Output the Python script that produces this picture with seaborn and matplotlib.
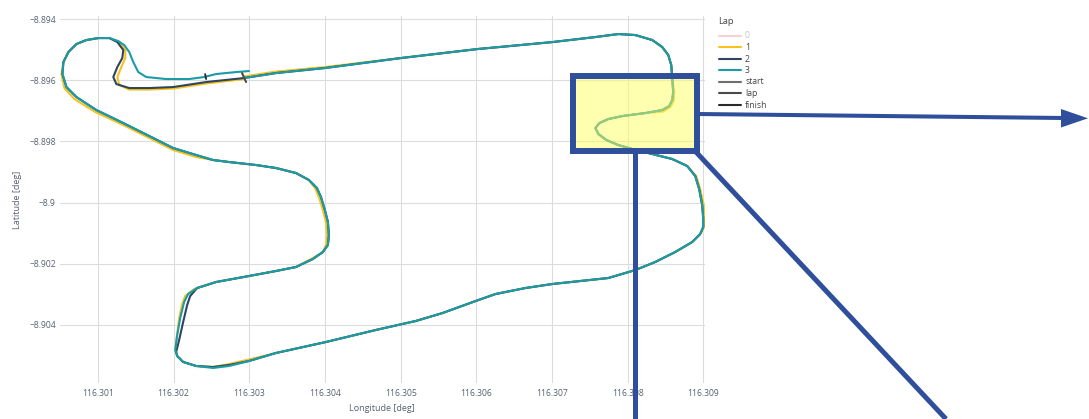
import pandas as pd
import matplotlib
matplotlib.use("Agg")
import matplotlib.pyplot as plt
from matplotlib.patches import Rectangle, Polygon
import seaborn as sns

# GPS traces of each lap (longitude / latitude in degrees)
lap2_lon = [
    116.302931, 116.303353, 116.303999, 116.305001, 116.306017, 116.307005, 116.307572, 116.307875,
    116.308100, 116.308324, 116.308455, 116.308535, 116.308574, 116.308587, 116.308600, 116.308587,
    116.308548, 116.308455, 116.308231, 116.307928, 116.307744, 116.307625, 116.307572, 116.307612,
    116.307717, 116.307875, 116.308060, 116.308324, 116.308587, 116.308785, 116.308891, 116.308943,
    116.308983, 116.308996, 116.308996, 116.308957, 116.308851, 116.308627, 116.308363, 116.308100,
    116.307744, 116.307374, 116.307005, 116.306649, 116.306254, 116.305990, 116.305555, 116.305199,
    116.304672, 116.304013, 116.303353, 116.302997, 116.302734, 116.302523, 116.302299, 116.302127,
    116.302048, 116.302035, 116.302074, 116.302127, 116.302180, 116.302220, 116.302312, 116.302562,
    116.302997, 116.303353, 116.303617, 116.303841, 116.303973, 116.304039, 116.304052, 116.304039,
    116.303999, 116.303947, 116.303894, 116.303788, 116.303617, 116.303353, 116.303090, 116.302734,
    116.302523, 116.302299, 116.301995, 116.301732, 116.301336, 116.300980, 116.300717, 116.300585,
    116.300532, 116.300545, 116.300611, 116.300717, 116.300848, 116.301007, 116.301152, 116.301257,
    116.301336, 116.301323, 116.301257, 116.301204, 116.301244, 116.301415, 116.301679, 116.301995,
    116.302430, 116.302931,
]
lap2_lat = [
    -8.895928, -8.895765, -8.895601, -8.895275, -8.894980, -8.894752, -8.894588, -8.894490,
    -8.894523, -8.894686, -8.894915, -8.895176, -8.895503, -8.895928, -8.896386, -8.896647,
    -8.896843, -8.896974, -8.897072, -8.897170, -8.897268, -8.897399, -8.897562, -8.897758,
    -8.897954, -8.898118, -8.898248, -8.898412, -8.898575, -8.898804, -8.899131, -8.899556,
    -8.900078, -8.900503, -8.900797, -8.901026, -8.901288, -8.901614, -8.901941, -8.902203,
    -8.902464, -8.902562, -8.902660, -8.902791, -8.902987, -8.903216, -8.903608, -8.903869,
    -8.904163, -8.904556, -8.904915, -8.905177, -8.905307, -8.905373, -8.905340, -8.905209,
    -8.905013, -8.904882, -8.904490, -8.903902, -8.903346, -8.903052, -8.902791, -8.902595,
    -8.902399, -8.902235, -8.902105, -8.901843, -8.901614, -8.901386, -8.901059, -8.900634,
    -8.900242, -8.899817, -8.899523, -8.899261, -8.899033, -8.898869, -8.898771, -8.898673,
    -8.898608, -8.898444, -8.898216, -8.897889, -8.897399, -8.896974, -8.896549, -8.896222,
    -8.895797, -8.895405, -8.895078, -8.894817, -8.894686, -8.894621, -8.894621, -8.894752,
    -8.895013, -8.895275, -8.895569, -8.895895, -8.896124, -8.896255, -8.896255, -8.896222,
    -8.896059, -8.895928,
]

lap1_lon = [
    116.302931, 116.303353, 116.303999, 116.305001, 116.306017, 116.307005, 116.307572, 116.307875,
    116.308100, 116.308324, 116.308455, 116.308535, 116.308574, 116.308587, 116.308614, 116.308607,
    116.308561, 116.308469, 116.308231, 116.307928, 116.307744, 116.307625, 116.307572, 116.307612,
    116.307717, 116.307875, 116.308060, 116.308324, 116.308587, 116.308785, 116.308904, 116.308957,
    116.309003, 116.309009, 116.309009, 116.308957, 116.308851, 116.308627, 116.308363, 116.308100,
    116.307744, 116.307374, 116.307005, 116.306649, 116.306254, 116.305990, 116.305555, 116.305199,
    116.304672, 116.304013, 116.303353, 116.302997, 116.302734, 116.302523, 116.302299, 116.302127,
    116.302048, 116.302022, 116.302048, 116.302074, 116.302114, 116.302154, 116.302272, 116.302562,
    116.302997, 116.303353, 116.303617, 116.303841, 116.303973, 116.304013, 116.304026, 116.304013,
    116.303973, 116.303920, 116.303868, 116.303788, 116.303617, 116.303353, 116.303090, 116.302734,
    116.302523, 116.302299, 116.301995, 116.301732, 116.301336, 116.300967, 116.300690, 116.300558,
    116.300519, 116.300545, 116.300611, 116.300717, 116.300848, 116.301007, 116.301152, 116.301283,
    116.301363, 116.301363, 116.301310, 116.301257, 116.301283, 116.301415, 116.301679, 116.301995,
    116.302430, 116.302931,
]
lap1_lat = [
    -8.895879, -8.895716, -8.895569, -8.895275, -8.894980, -8.894752, -8.894588, -8.894490,
    -8.894523, -8.894686, -8.894915, -8.895176, -8.895503, -8.895928, -8.896386, -8.896680,
    -8.896876, -8.897023, -8.897072, -8.897170, -8.897268, -8.897399, -8.897562, -8.897758,
    -8.897954, -8.898118, -8.898248, -8.898412, -8.898575, -8.898804, -8.899131, -8.899556,
    -8.900078, -8.900503, -8.900797, -8.901026, -8.901288, -8.901614, -8.901941, -8.902203,
    -8.902464, -8.902562, -8.902660, -8.902791, -8.902987, -8.903216, -8.903608, -8.903869,
    -8.904163, -8.904556, -8.904915, -8.905128, -8.905275, -8.905373, -8.905340, -8.905209,
    -8.905013, -8.904817, -8.904294, -8.903771, -8.903314, -8.903052, -8.902824, -8.902595,
    -8.902399, -8.902235, -8.902105, -8.901811, -8.901614, -8.901386, -8.901059, -8.900634,
    -8.900242, -8.899817, -8.899523, -8.899261, -8.899033, -8.898869, -8.898771, -8.898673,
    -8.898608, -8.898510, -8.898281, -8.897954, -8.897464, -8.897039, -8.896614, -8.896255,
    -8.895797, -8.895405, -8.895078, -8.894817, -8.894686, -8.894621, -8.894621, -8.894752,
    -8.895013, -8.895275, -8.895569, -8.895895, -8.896157, -8.896304, -8.896304, -8.896271,
    -8.896108, -8.895961,
]

# lap 3 finishes through the pit lane
lap3_lon = [
    116.302931, 116.303353, 116.303999, 116.305001, 116.306017, 116.307005, 116.307572, 116.307875,
    116.308100, 116.308324, 116.308455, 116.308535, 116.308574, 116.308587, 116.308600, 116.308587,
    116.308548, 116.308455, 116.308231, 116.307928, 116.307744, 116.307625, 116.307572, 116.307612,
    116.307717, 116.307875, 116.308060, 116.308324, 116.308587, 116.308785, 116.308891, 116.308943,
    116.308983, 116.308996, 116.308996, 116.308957, 116.308851, 116.308627, 116.308363, 116.308100,
    116.307744, 116.307374, 116.307005, 116.306649, 116.306254, 116.305990, 116.305555, 116.305199,
    116.304672, 116.304013, 116.303353, 116.302997, 116.302734, 116.302523, 116.302299, 116.302127,
    116.302048, 116.302022, 116.302048, 116.302088, 116.302140, 116.302193, 116.302312, 116.302562,
    116.302997, 116.303353, 116.303617, 116.303841, 116.303973, 116.304039, 116.304052, 116.304039,
    116.303999, 116.303947, 116.303894, 116.303788, 116.303617, 116.303353, 116.303090, 116.302734,
    116.302523, 116.302299, 116.301995, 116.301732, 116.301336, 116.300980, 116.300717, 116.300585,
    116.300532, 116.300545, 116.300611, 116.300717, 116.300848, 116.301007, 116.301152, 116.301270,
    116.301349, 116.301415, 116.301468, 116.301534, 116.301639, 116.301903, 116.302206, 116.302404,
    116.302562, 116.302826, 116.302997,
]
lap3_lat = [
    -8.895928, -8.895765, -8.895601, -8.895275, -8.894980, -8.894752, -8.894588, -8.894490,
    -8.894523, -8.894686, -8.894915, -8.895176, -8.895503, -8.895928, -8.896386, -8.896647,
    -8.896843, -8.896974, -8.897072, -8.897170, -8.897268, -8.897399, -8.897562, -8.897758,
    -8.897954, -8.898118, -8.898248, -8.898412, -8.898575, -8.898804, -8.899131, -8.899556,
    -8.900078, -8.900503, -8.900797, -8.901026, -8.901288, -8.901614, -8.901941, -8.902203,
    -8.902464, -8.902562, -8.902660, -8.902791, -8.902987, -8.903216, -8.903608, -8.903869,
    -8.904163, -8.904556, -8.904915, -8.905177, -8.905340, -8.905405, -8.905340, -8.905209,
    -8.905013, -8.904817, -8.904327, -8.903771, -8.903248, -8.902987, -8.902791, -8.902595,
    -8.902399, -8.902235, -8.902105, -8.901843, -8.901614, -8.901386, -8.901059, -8.900634,
    -8.900242, -8.899817, -8.899523, -8.899261, -8.899033, -8.898869, -8.898771, -8.898673,
    -8.898608, -8.898444, -8.898216, -8.897889, -8.897399, -8.896974, -8.896549, -8.896222,
    -8.895797, -8.895405, -8.895078, -8.894817, -8.894686, -8.894621, -8.894621, -8.894719,
    -8.894850, -8.895078, -8.895405, -8.895732, -8.895895, -8.895961, -8.895961, -8.895895,
    -8.895797, -8.895732, -8.895699,
]

# timing lines
start_lon = [116.302905, 116.302958]
start_lat = [-8.895765, -8.896059]
lapline_lon = [116.302905, 116.302958]
lapline_lat = [-8.895765, -8.896059]
finish_lon = [116.302417, 116.302430]
finish_lat = [-8.895797, -8.895961]

lap_names = ["0", "1", "2", "3"]
lap_colors = {"0": "#F4A3A3", "1": "#F6C21B", "2": "#2E4560", "3": "#1A9BA8"}
timing_names = ["start", "lap", "finish"]
timing_colors = {"start": "#6e6e6e", "lap": "#4a4a4a", "finish": "#2a2a2a"}

x_ticks = [116.301, 116.302, 116.303, 116.304, 116.305, 116.306, 116.307, 116.308, 116.309]
x_ticklabels = ["116.301", "116.302", "116.303", "116.304", "116.305", "116.306", "116.307", "116.308", "116.309"]
y_ticks = [-8.894, -8.896, -8.898, -8.900, -8.902, -8.904]
y_ticklabels = ["\u22128.894", "\u22128.896", "\u22128.898", "\u22128.9", "\u22128.902", "\u22128.904"]

frames = []
for name, lon, lat in [("1", lap1_lon, lap1_lat), ("2", lap2_lon, lap2_lat), ("3", lap3_lon, lap3_lat)]:
    frames.append(pd.DataFrame({"lon": lon, "lat": lat, "lap": name, "idx": range(len(lon))}))
laps = pd.concat(frames, ignore_index=True)

sns.set_theme(style="white")
plt.rcParams["font.family"] = ["Open Sans", "DejaVu Sans"]

W, H = 1089, 419
fig = plt.figure(figsize=(W / 100, H / 100), dpi=100)
left, right, top, bottom = 60, 705, 16, 383
ax = fig.add_axes([left / W, 1 - bottom / H, (right - left) / W, (bottom - top) / H])

sns.lineplot(data=laps, x="lon", y="lat", hue="lap", hue_order=["1", "2", "3"],
             palette=lap_colors, sort=False, estimator=None, units="lap",
             linewidth=1.5, legend=False, ax=ax)
for line in ax.get_lines():
    line.set_solid_joinstyle("round")
    line.set_solid_capstyle("round")

for name, lon, lat in [("start", start_lon, start_lat), ("lap", lapline_lon, lapline_lat),
                       ("finish", finish_lon, finish_lat)]:
    ax.plot(lon, lat, color=timing_colors[name], lw=1.3, zorder=4)

ax.set_xlim(116.30050, 116.30902)
ax.set_ylim(-8.905896, -8.89390)
ax.set_xticks(x_ticks)
ax.set_xticklabels(x_ticklabels)
ax.set_yticks(y_ticks)
ax.set_yticklabels(y_ticklabels)
ax.grid(True, color="#dcdcdc", lw=0.8)
ax.set_axisbelow(True)
for s in ax.spines.values():
    s.set_visible(False)
tick_col = "#56606f"
ax.tick_params(axis="both", length=0, labelsize=6.2, colors=tick_col)
ax.tick_params(axis="x", pad=4)
ax.tick_params(axis="y", pad=3)
ax.set_xlabel("")
ax.set_ylabel("")

# overlay in figure pixel coordinates: axis titles, legend and call-out
ov = fig.add_axes([0, 0, 1, 1], zorder=5)
ov.set_xlim(0, W)
ov.set_ylim(H, 0)
ov.axis("off")
ov.patch.set_alpha(0)

ov.text(382, 408, "Longitude [deg]", ha="center", va="center", fontsize=6.5, color=tick_col)
ov.text(17, 200, "Latitude [deg]", ha="center", va="center", rotation=90, fontsize=6.5, color=tick_col)

ov.text(718, 22, "Lap", ha="left", va="center", fontsize=6.7, color="#444444")
rows = [36, 47.5, 59, 70.5, 82, 93.5, 105]
for y, name in zip(rows, lap_names + timing_names):
    if name in lap_colors:
        col = lap_colors[name]
    else:
        col = timing_colors[name]
    faded = name == "0"
    ov.plot([719, 741], [y, y], color=col, lw=1.5, alpha=0.5 if faded else 1)
    ov.text(745, y, name, ha="left", va="center", fontsize=6.2,
            color="#c4c4c4" if faded else "#444444")

blue = "#2F4F9C"
ov.add_patch(Rectangle((573, 76), 124, 75, facecolor=(1, 1, 0.39, 0.5),
                       edgecolor=blue, lw=4.3, zorder=6))
ov.plot([697, 1064], [114, 118], color=blue, lw=2.9, solid_capstyle="butt", zorder=6)
ov.add_patch(Polygon([[1088, 118.3], [1061, 109], [1061, 127.5]], closed=True,
                     facecolor=blue, edgecolor="none", zorder=6))
ov.plot([635, 635], [152, 419], color=blue, lw=3.6, solid_capstyle="butt", zorder=6)
ov.plot([696, 946], [152, 419], color=blue, lw=3.6, solid_capstyle="butt", zorder=6)

fig.savefig("out.png", dpi=100)
